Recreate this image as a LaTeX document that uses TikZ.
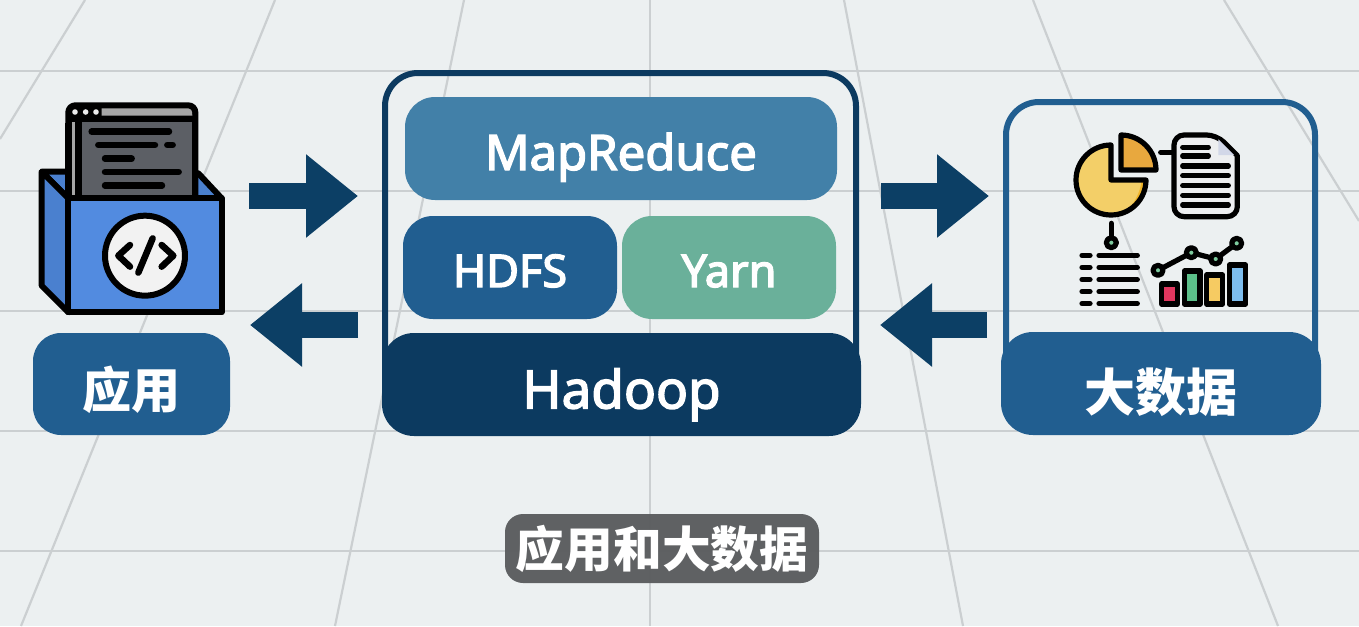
\documentclass[tikz,border=0pt]{standalone}
\usepackage{fontspec}
\usetikzlibrary{arrows.meta}
\newfontfamily\latf{Noto Sans}
\newfontfamily\cjkf{Noto Sans CJK SC}
\definecolor{bgc}{HTML}{ECF0F1}
\definecolor{gridc}{HTML}{CBCFD1}
\definecolor{navy}{HTML}{0C3A60}
\definecolor{midblue}{HTML}{215E90}
\definecolor{mapc}{HTML}{4280A8}
\definecolor{yarnc}{HTML}{6AB09A}
\definecolor{arrowc}{HTML}{0C3F65}
\definecolor{capc}{HTML}{5A5C5E}
\definecolor{boxfront}{HTML}{528BE0}
\definecolor{boxside}{HTML}{4A80CF}
\definecolor{scr}{HTML}{5C5F65}
\definecolor{piey}{HTML}{F3CF68}
\definecolor{piedark}{HTML}{F0B429}
\definecolor{pieo}{HTML}{E8A83E}
\definecolor{docc}{HTML}{EDEEF0}
\definecolor{foldc}{HTML}{D2D7E8}
\definecolor{dotg}{HTML}{7DCB9E}
\tikzset{
  gridline/.style={gridc,line width=2.2pt},
  pill/.style={rectangle,rounded corners=#1,inner sep=0pt,text=white,anchor=center},
  pill/.default=30pt,
  frame/.style={line width=6pt,rounded corners=33pt},
  bigarrow/.style={arrowc,line width=26pt,-{Triangle[length=52pt,width=80pt]}},
  ink/.style={draw=black,line width=6pt,line join=round,line cap=round},
  thinink/.style={draw=black,line width=5.2pt,line join=round,line cap=round},
  inkline/.style={black,line width=6.5pt,line cap=round},
  thinline/.style={black,line width=5.2pt,line cap=round},
}
\newcommand{\latsize}[3]{\raisebox{#1}[0pt][0pt]{\fontsize{#2}{#2}\selectfont\latf\special{pdf:code 2 Tr 1.4 w}#3\special{pdf:code 0 Tr}}}
\newcommand{\cjksize}[3]{\raisebox{#1}[0pt][0pt]{\fontsize{#2}{#2}\selectfont\cjkf\bfseries #3}}
\begin{document}
\begin{tikzpicture}[x=1pt,y=-1pt]
\useasboundingbox (0,0) rectangle (1359,626);
\fill[bgc] (0,0) rectangle (1359,626);
% background grid
\foreach \yy in {71,191,311,431,551} \draw[gridline] (0,\yy) -- (1359,\yy);
\draw[gridline] (85,0) -- (0,139);
\draw[gridline] (275,0) -- (21,626);
\draw[gridline] (464,0) -- (335,626);
\draw[gridline] (650,0) -- (650,626);
\draw[gridline] (844,0) -- (963,626);
\draw[gridline] (1033,0) -- (1278,626);
\draw[gridline] (1224,0) -- (1359,221);

% Hadoop group
\draw[navy,frame] (385,73) rectangle (856,400);
\node[pill,fill=mapc,minimum width=432pt,minimum height=103pt] (mr) at (621,148.5) {\latsize{-21.5pt}{49}{MapReduce}};
\node[pill,fill=midblue,minimum width=214pt,minimum height=103pt] (hdfs) at (510,267.5) {\latsize{-19.5pt}{45}{HDFS}};
\node[pill,fill=yarnc,minimum width=214pt,minimum height=103pt] (yarn) at (729,267.5) {\latsize{-19.5pt}{45}{Yarn}};
\node[pill=32pt,fill=navy,minimum width=479pt,minimum height=103pt] (hadoop) at (621.5,384.5) {\latsize{-24pt}{53}{Hadoop}};

% big data group
\draw[midblue,frame] (1006,102) rectangle (1315,400);
\node[pill=32pt,fill=midblue,minimum width=320pt,minimum height=103pt] (data) at (1161,383.5) {\cjksize{-28pt}{51}{大数据}};

% app label
\node[pill=28pt,fill=midblue,minimum width=197pt,minimum height=102pt] (app) at (131.5,384) {\cjksize{-24.6pt}{49}{应用}};

% caption
\node[pill=18pt,fill=capc,fill opacity=.96,text opacity=1,minimum width=314pt,minimum height=69pt] (cap) at (662,548.5) {\cjksize{-19pt}{48.7}{应用和大数据}};

% arrows
\coordinate (a1s) at (249,196); \coordinate (a1e) at (358,196);
\coordinate (a2s) at (358,325); \coordinate (a2e) at (250,325);
\coordinate (a3s) at (881,196); \coordinate (a3e) at (989,196);
\coordinate (a4s) at (987,325); \coordinate (a4e) at (880,325);
\draw[bigarrow] (a1s) -- (a1e);
\draw[bigarrow] (a2s) -- (a2e);
\draw[bigarrow] (a3s) -- (a3e);
\draw[bigarrow] (a4s) -- (a4e);

% application icon
\begin{scope}[shift={(20,90)},x=0.33333pt,y=-0.33333pt]
  \path[ink,fill=boxside] (65,245) -- (200,245) -- (200,325) -- (145,325) -- cycle;
  \path[ink,fill=boxside] (500,245) -- (535,250) -- (605,325) -- (500,325) -- cycle;
  % window
  \path[ink,fill=black,rounded corners=7pt] (145,46) rectangle (526,335);
  \fill[black] (135,100) rectangle (535,330);
  \fill[gray!70!white] (245,55) -- (505,55) .. controls (512,55) and (517,60) .. (517,77) -- (245,77) -- cycle;
  \fill[white!92!black] (165,66) circle[radius=2.8pt] (197,66) circle[radius=2.8pt] (228,66) circle[radius=2.8pt];
  \fill[gray!70!white] (155,95) rectangle (165,320);
  \fill[scr] (185,95) rectangle (517,320);
  \draw[inkline] (215,125) -- (447,125);
  \draw[inkline] (235,165) -- (405,165);
  \draw[inkline] (442,165) -- (458,165);
  \draw[inkline] (255,206) -- (335,206);
  \draw[inkline] (255,246) -- (476,246);
  \draw[inkline] (255,287) -- (426,287);
  % faces
  \path[ink,fill=boxside] (65,245) -- (145,325) -- (145,667) -- (65,587) -- cycle;
  \path[ink,fill=boxfront] (145,325) rectangle (605,667);
  \path[ink,fill=white!90!gray] (375,497) circle[radius=40pt];
  \draw[inkline,line join=round] (330,465) -- (295,497) -- (330,530);
  \draw[inkline,line join=round] (425,465) -- (460,497) -- (425,530);
  \draw[inkline] (398,445) -- (355,548);
\end{scope}

% data icon
\begin{scope}[shift={(1050,110)},x=0.33333pt,y=-0.33333pt]
  \path[fill=piey] (183,210) -- (183,105) arc[start angle=90,end angle=360,radius=35pt] -- cycle;
  \fill[piedark] (288,212) arc[start angle=0,end angle=-70,radius=35pt] .. controls (250,290) and (270,250) .. (275,212) -- cycle;
  \path[thinink] (183,210) -- (183,105) arc[start angle=90,end angle=360,radius=35pt] -- cycle;
  \path[thinink,fill=pieo] (213,78) -- (213,180) -- (318,180) arc[start angle=0,end angle=90,radius=35pt] -- cycle;
  \draw[thinline] (332,127) -- (365,127);
  \path[thinink,fill=docc,rounded corners=10pt] (372,75) -- (500,75) [sharp corners] -- (562,137) [rounded corners=10pt] -- (562,320) -- (372,320) -- cycle;
  \fill[foldc] (505,88) -- (505,135) -- (552,135) -- cycle;
  \foreach \yy in {112,138} \draw[thinline] (398,\yy) -- (475,\yy);
  \foreach \yy in {168,197,227,256,285} \draw[thinline] (398,\yy) -- (535,\yy);
  \draw[thinline] (184,340) -- (184,380);
  \path[thinink,fill=dotg] (184,398) circle[radius=5pt];
  \foreach \yy in {436,472,509,545,581} {
    \draw[thinline] (96,\yy) -- (120,\yy);
    \draw[thinline] (147,\yy) -- (262,\yy);
  }
  \draw[thinink] (324,481) -- (424,428) -- (497,447) -- (560,400);
  \path[thinink,fill=dotg] (324,481) circle[radius=5pt];
  \path[thinink,fill=dotg] (424,428) circle[radius=5pt];
  \path[thinink,fill=dotg] (497,447) circle[radius=5pt];
  \path[thinink,fill=dotg] (560,400) circle[radius=5pt];
  \path[thinink,fill={rgb,255:red,224;green,55;blue,95}] (335,522) rectangle (382,582);
  \path[thinink,fill={rgb,255:red,92;green,192;blue,138}] (403,483) rectangle (450,582);
  \path[thinink,fill={rgb,255:red,246;green,203;blue,98}] (470,495) rectangle (518,582);
  \path[thinink,fill={rgb,255:red,125;green,189;blue,238}] (538,465) rectangle (587,582);
\end{scope}
\end{tikzpicture}
\end{document}
